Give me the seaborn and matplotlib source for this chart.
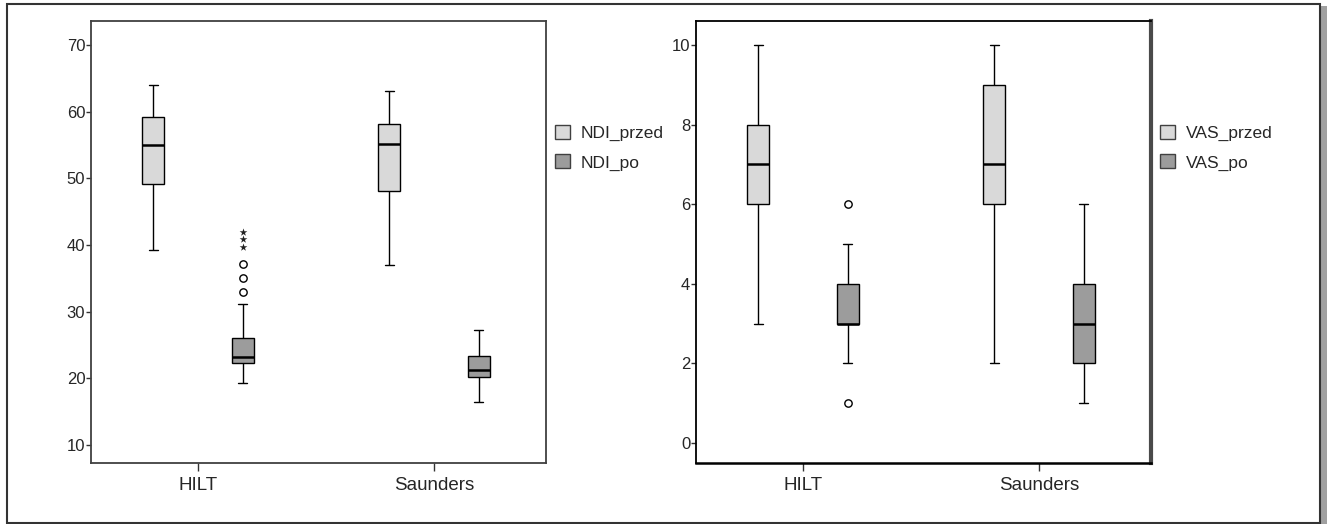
import numpy as np
import pandas as pd
import matplotlib
matplotlib.use('Agg')
import matplotlib.pyplot as plt
from matplotlib.patches import Patch, Rectangle
import seaborn as sns

groups = ['HILT', 'Saunders']

# five-number summaries: low whisker, Q1, median, Q3, high whisker
ndi_przed_hilt = [39.3, 49.2, 55.0, 59.2, 64.0]
ndi_po_hilt = [19.3, 22.3, 23.2, 26.1, 31.1]
ndi_przed_saunders = [37.0, 48.1, 55.2, 58.2, 63.1]
ndi_po_saunders = [16.4, 20.2, 21.3, 23.3, 27.2]

vas_przed_hilt = [3, 6, 7, 8, 10]
vas_po_hilt = [2, 3, 3, 4, 5]
vas_przed_saunders = [2, 6, 7, 9, 10]
vas_po_saunders = [1, 2, 3, 4, 6]

# outliers (circles) and extremes (stars)
ndi_po_hilt_out = [33.0, 35.0, 37.2]
ndi_po_hilt_ext = [39.7, 40.9, 42.0]
vas_po_hilt_out = [6, 1]

light = '#d9d9d9'
dark = '#9c9c9c'
W = 1327
H = 524


def long_df(parts):
    rows = []
    for grp, meas, vals in parts:
        for v in vals:
            rows.append({'group': grp, 'measure': meas, 'value': v})
    return pd.DataFrame(rows)


ndi = long_df([
    ('HILT', 'NDI_przed', ndi_przed_hilt), ('HILT', 'NDI_po', ndi_po_hilt),
    ('Saunders', 'NDI_przed', ndi_przed_saunders), ('Saunders', 'NDI_po', ndi_po_saunders),
])
vas = long_df([
    ('HILT', 'VAS_przed', vas_przed_hilt), ('HILT', 'VAS_po', vas_po_hilt),
    ('Saunders', 'VAS_przed', vas_przed_saunders), ('Saunders', 'VAS_po', vas_po_saunders),
])

sns.set_style('white')
plt.rcParams['font.family'] = ['Liberation Sans', 'DejaVu Sans']

fig = plt.figure(figsize=(W / 100, H / 100), dpi=100)


def px_axes(x0, y0, x1, y1):
    return fig.add_axes([x0 / W, 1 - y1 / H, (x1 - x0) / W, (y1 - y0) / H])


ax1 = px_axes(91, 21, 546, 463)
ax2 = px_axes(696, 21, 1151, 463)

width = 0.76
off = width / 4


def draw(ax, df, names):
    sns.boxplot(data=df, x='group', y='value', hue='measure', order=groups,
                hue_order=names, palette=[light, dark], width=width, gap=0.755,
                whis=(0, 100), linewidth=1, linecolor='black', fliersize=0,
                medianprops=dict(linewidth=1.8, color='black'),
                capwidths=0.038, legend=False, ax=ax)
    ax.set_xlabel('')
    ax.set_ylabel('')
    ax.tick_params(axis='both', direction='out', width=1,
                   color='#333333', left=True, bottom=True)
    ax.tick_params(axis='y', labelsize=12, length=3.6, pad=0.5)
    ax.tick_params(axis='x', labelsize=13.5, length=6, pad=4)
    ax.legend(handles=[Patch(fc=light, ec='#404040', lw=1, label=names[0]),
                       Patch(fc=dark, ec='#404040', lw=1, label=names[1])],
              loc='upper left', bbox_to_anchor=(1.02, 0.765), frameon=False,
              fontsize=12.5, handlelength=0.85, handleheight=0.85,
              handletextpad=0.63, labelspacing=0.78, borderpad=0, borderaxespad=0)


draw(ax1, ndi, ['NDI_przed', 'NDI_po'])
draw(ax2, vas, ['VAS_przed', 'VAS_po'])

# outliers of HILT *_po boxes
hx = groups.index('HILT') + off
ax1.scatter([hx] * len(ndi_po_hilt_out), ndi_po_hilt_out, s=28, facecolors='white',
            edgecolors='black', linewidths=1, zorder=5)
ax1.scatter([hx] * len(ndi_po_hilt_ext), ndi_po_hilt_ext, s=34, marker='*',
            color='#222222', linewidths=0, zorder=5)
ax2.scatter([hx] * len(vas_po_hilt_out), vas_po_hilt_out, s=28, facecolors='white',
            edgecolors='black', linewidths=1, zorder=5)

ax1.set_xlim(-0.453, 1.475)
ax2.set_xlim(-0.453, 1.475)
ax1.set_ylim(7.3, 73.6)
ax1.set_yticks([10, 20, 30, 40, 50, 60, 70])
ax2.set_ylim(-0.5, 10.6)
ax2.set_yticks([0, 2, 4, 6, 8, 10])

for sp in ax1.spines.values():
    sp.set_visible(True)
    sp.set_color('#404040')
    sp.set_linewidth(1.3)
for name, sp in ax2.spines.items():
    sp.set_visible(True)
    sp.set_color('black')
    sp.set_linewidth(1.3)
ax2.spines['right'].set_color('#4a4a4a')
ax2.spines['right'].set_linewidth(3)
ax2.spines['bottom'].set_linewidth(1.8)

# outer frame with a grey shadow on the right
fig.add_artist(Rectangle((1321 / W, 0), 6 / W, 1 - 6 / H, transform=fig.transFigure,
                         fc='#a0a0a0', ec='none'))
fig.add_artist(Rectangle((7 / W, 1 / H), 1313 / W, 519 / H, transform=fig.transFigure,
                         fill=False, lw=1.5, ec='#333333'))

fig.savefig('out.png', dpi=100)
